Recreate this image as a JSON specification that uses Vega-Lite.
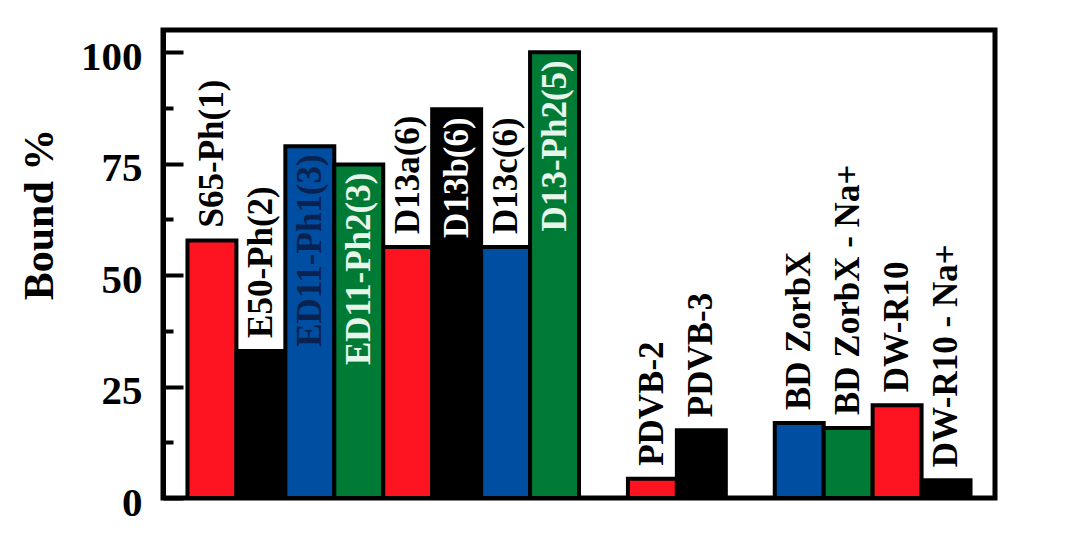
{
  "$schema": "https://vega.github.io/schema/vega-lite/v6.json",
  "width": 832,
  "height": 468,
  "autosize": {"type": "none"},
  "padding": {"left": 163, "top": 30, "right": 85, "bottom": 46},
  "background": "white",
  "config": {"view": {"stroke": "black", "strokeWidth": 5}, "font": "Liberation Serif"},
  "data": {
    "values": [
      {"name": "S65-Ph(1)", "bound": 57.8, "series": "A"},
      {"name": "E50-Ph(2)", "bound": 33, "series": "B"},
      {"name": "ED11-Ph1(3)", "bound": 78.9, "series": "C"},
      {"name": "ED11-Ph2(3)", "bound": 74.8, "series": "D"},
      {"name": "D13a(6)", "bound": 56.3, "series": "A"},
      {"name": "D13b(6)", "bound": 87.2, "series": "B"},
      {"name": "D13c(6)", "bound": 56.3, "series": "C"},
      {"name": "D13-Ph2(5)", "bound": 100, "series": "D"},
      {"name": "PDVB-2", "bound": 4.3, "series": "A"},
      {"name": "PDVB-3", "bound": 15.2, "series": "B"},
      {"name": "BD ZorbX", "bound": 16.8, "series": "C"},
      {"name": "BD ZorbX - Na+", "bound": 15.7, "series": "D"},
      {"name": "DW-R10", "bound": 20.8, "series": "A"},
      {"name": "DW-R10 - Na+", "bound": 4.0, "series": "B"}
    ]
  },
  "encoding": {
    "x": {
      "field": "name",
      "type": "nominal",
      "sort": null,
      "scale": {
        "domain": ["S65-Ph(1)", "E50-Ph(2)", "ED11-Ph1(3)", "ED11-Ph2(3)", "D13a(6)", "D13b(6)", "D13c(6)", "D13-Ph2(5)", " ", "PDVB-2", "PDVB-3", "  ", "BD ZorbX", "BD ZorbX - Na+", "DW-R10", "DW-R10 - Na+"],
        "paddingInner": 0,
        "paddingOuter": 0.5
      },
      "axis": null
    },
    "y": {
      "field": "bound",
      "type": "quantitative",
      "scale": {"domain": [0, 105], "nice": false, "zero": true}
    }
  },
  "layer": [
    {
      "mark": {"type": "bar", "stroke": "black", "strokeWidth": 4},
      "encoding": {
        "y": {
          "field": "bound",
          "type": "quantitative",
          "scale": {"domain": [0, 105], "nice": false, "zero": true},
          "axis": {
            "values": [0, 12.5, 25, 37.5, 50, 62.5, 75, 87.5, 100],
            "labelExpr": "datum.value % 25 === 0 ? datum.label : ''",
            "labelOverlap": false,
            "tickSize": {"condition": {"test": "datum.value % 25 === 0", "value": -20}, "value": -10},
            "tickWidth": 4,
            "tickColor": "black",
            "domainColor": "black",
            "domainWidth": 5,
            "grid": false,
            "labelFont": "Liberation Serif",
            "labelFontWeight": "bold",
            "labelFontSize": 41,
            "labelColor": "black",
            "labelPadding": 41,
            "labelOffset": 5,
            "title": "Bound %",
            "titleFont": "Liberation Serif",
            "titleFontSize": 42,
            "titleFontWeight": "bold",
            "titleColor": "black",
            "titleAngle": 270,
            "titleAlign": "center",
            "titleBaseline": "alphabetic",
            "titleX": -111,
            "titleY": 184
          }
        },
        "color": {
          "field": "series",
          "type": "nominal",
          "scale": {"domain": ["A", "B", "C", "D"], "range": ["#fe1421", "#000000", "#004ea2", "#007b36"]},
          "legend": null
        }
      }
    },
    {
      "transform": [{"filter": {"field": "name", "oneOf": ["S65-Ph(1)", "E50-Ph(2)", "D13a(6)", "D13c(6)", "PDVB-2", "PDVB-3", "BD ZorbX", "BD ZorbX - Na+", "DW-R10", "DW-R10 - Na+"]}}],
      "mark": {"type": "text", "angle": 270, "align": "left", "baseline": "middle", "dx": 13, "font": "Liberation Serif", "fontWeight": "bold", "fontSize": 35, "color": "black"},
      "encoding": {"text": {"field": "name"}}
    },
    {
      "transform": [{"filter": {"field": "name", "oneOf": ["ED11-Ph1(3)", "ED11-Ph2(3)", "D13b(6)", "D13-Ph2(5)"]}}],
      "mark": {"type": "text", "angle": 270, "align": "right", "baseline": "middle", "dx": -8, "font": "Liberation Serif", "fontWeight": "bold", "fontSize": 35},
      "encoding": {
        "text": {"field": "name"},
        "fill": {
          "field": "series",
          "type": "nominal",
          "scale": {"domain": ["B", "C", "D"], "range": ["#ffffff", "#0a2250", "#e8f5ea"]},
          "legend": null
        }
      }
    }
  ]
}
